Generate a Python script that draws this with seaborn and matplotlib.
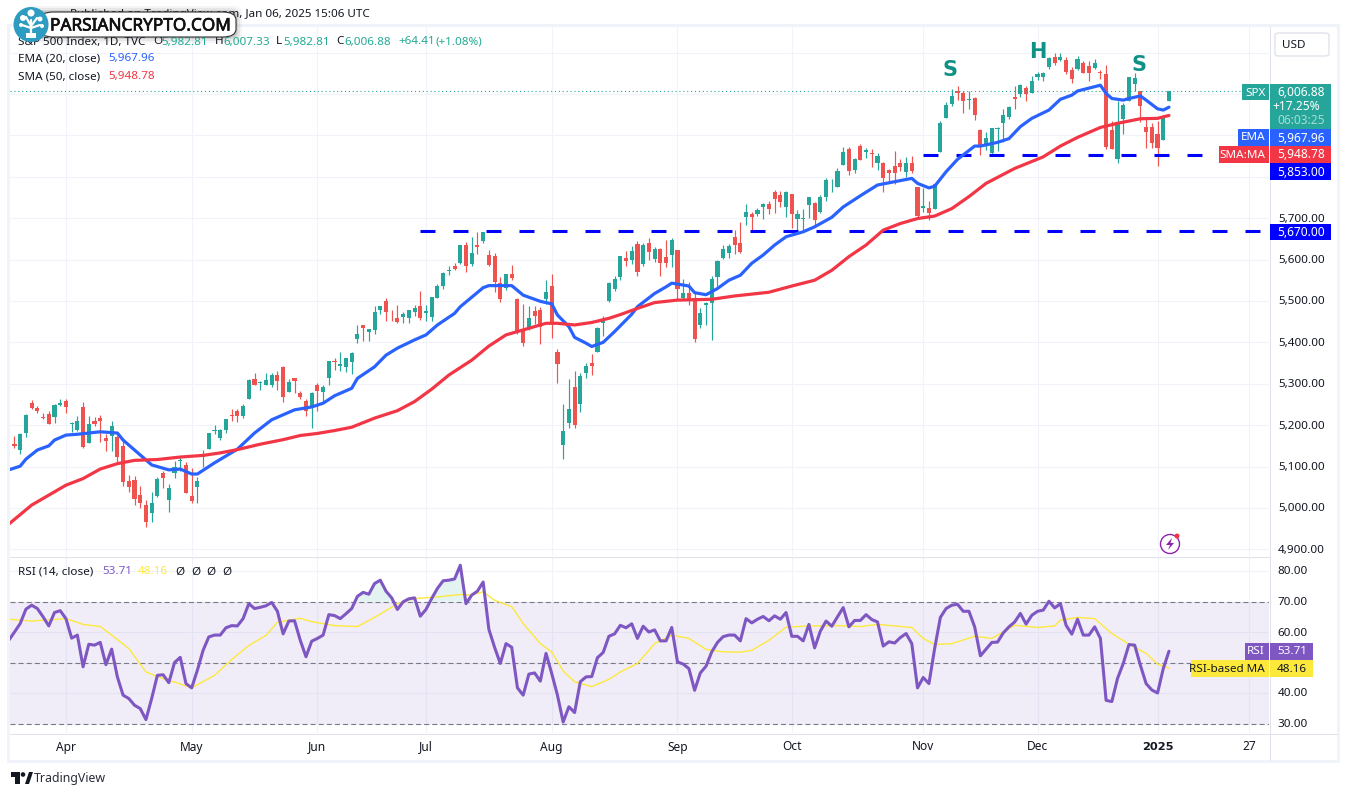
import matplotlib
matplotlib.use("Agg")
import matplotlib.pyplot as plt
import matplotlib.patheffects as pe
import numpy as np
import pandas as pd
import seaborn as sns
from matplotlib.patches import Rectangle, FancyBboxPatch, Ellipse, Polygon

sns.set_theme(style="white")
plt.rcParams['font.family'] = ['Noto Sans', 'DejaVu Sans']

W, H = 1345, 796

# ---- S&P 500 daily candles, Mar 18 2024 .. Jan 6 2025 ----
opens = [5155,5139,5181,5253,5242,5219,5228,5220,5248,
 5258,5204,5188,5244,5158,5211,5218,5168,5173,5171,5149,5064,5068,5032,5006,4988,5028,5085,5019,5085,5114,5103,
 5029,5050,5123,5142,5187,5168,5189,5225,5233,5222,5264,5312,5303,5298,5298,5321,5341,5281,5315,5278,5259,5244,
 5297,5279,5314,5355,5343,5341,5353,5409,5441,5424,5431,5477,5499,5466,5459,5461,5460,5473,5488,
 5471,5461,5507,5537,5572,5584,5591,5635,5590,5634,5644,5610,5608,5543,5532,5565,5505,5428,5433,5476,5478,5505,
 5537,5376,5151,5206,5293,5252,5327,5351,5376,5446,5501,5530,5558,5603,5598,5637,5590,5639,5602,5625,5607,5612,
 5623,5506,5520,5507,5443,5491,5496,5557,5604,5615,5655,5641,5703,5709,5710,5727,5733,5762,5756,5727,
 5758,5698,5698,5731,5737,5714,5751,5779,5775,5829,5866,5816,5875,5859,5857,5833,5834,5817,5827,5833,5812,5833,5775,
 5724,5725,5722,5860,5942,5976,6008,6003,5985,5989,5912,5875,5858,5915,5930,5945,5992,6000,6014,6003,
 6040,6042,6066,6089,6081,6083,6057,6060,6074,6068,6063,6053,6048,5912,5842,5940,5984,6025,6006,5920,5920,
 5903,5888,5983]
highs = [5175,5180,5226,5261,5246,5229,5235,5250,5264,
 5264,5208,5222,5256,5222,5219,5224,5178,5211,5176,5168,5079,5077,5052,5020,5039,5076,5089,5057,5114,5123,5110,
 5096,5074,5139,5181,5200,5190,5215,5239,5238,5250,5312,5325,5306,5325,5325,5330,5342,5311,5315,5282,5263,5281,
 5302,5298,5354,5362,5376,5362,5376,5441,5441,5432,5488,5488,5506,5478,5490,5473,5479,5490,5524,
 5490,5510,5540,5570,5584,5591,5636,5642,5655,5666,5667,5622,5615,5557,5564,5586,5508,5492,5488,5488,5486,5551,
 5566,5383,5250,5312,5331,5326,5351,5371,5436,5463,5546,5561,5608,5620,5632,5644,5641,5651,5631,5627,5646,5651,
 5623,5552,5546,5522,5484,5497,5561,5600,5636,5637,5671,5690,5733,5716,5725,5736,5741,5767,5765,5766,
 5758,5720,5723,5752,5740,5757,5796,5795,5822,5871,5871,5846,5878,5870,5867,5858,5835,5818,5862,5843,5847,5850,5775,
 5772,5741,5784,5934,5980,6012,6018,6008,6008,5993,5916,5909,5917,5920,5964,5972,6020,6025,6020,6044,
 6053,6053,6089,6100,6099,6088,6066,6092,6079,6079,6085,6058,6070,5935,5982,5979,6041,6050,6006,5940,5930,
 5935,5950,6007]
lows = [5145,5131,5171,5240,5229,5216,5203,5205,5246,
 5229,5184,5186,5146,5157,5197,5160,5138,5138,5107,5052,5039,5007,5001,4953,4966,5027,5048,4990,5073,5089,5035,
 5013,5011,5099,5142,5178,5165,5181,5209,5207,5217,5264,5296,5284,5298,5292,5286,5257,5279,5278,5262,5222,5192,
 5234,5257,5297,5333,5331,5328,5324,5398,5403,5403,5420,5468,5451,5452,5447,5446,5446,5463,5453,
 5451,5451,5507,5530,5562,5575,5589,5570,5584,5614,5639,5584,5522,5497,5526,5551,5419,5391,5430,5444,5397,5493,
 5410,5302,5119,5193,5192,5231,5314,5321,5376,5416,5497,5525,5550,5585,5590,5560,5585,5600,5593,5560,5581,5581,
 5505,5504,5490,5402,5434,5441,5406,5535,5602,5604,5614,5615,5683,5670,5705,5698,5710,5713,5727,5703,
 5675,5669,5669,5700,5683,5712,5741,5763,5775,5829,5804,5808,5840,5846,5824,5816,5762,5784,5783,5814,5800,5809,5702,
 5715,5696,5722,5860,5942,5971,5986,5955,5964,5938,5853,5865,5853,5861,5885,5940,5963,5992,5984,6003,
 6033,6032,6061,6070,6079,6048,6027,6058,6051,6030,6059,6036,5867,5866,5832,5902,5982,6006,5932,5869,5869,
 5825,5888,5983]
closes = [5149,5179,5225,5242,5234,5218,5204,5248,5254,
 5244,5206,5211,5147,5204,5202,5210,5161,5199,5123,5062,5051,5022,5011,4967,5011,5071,5072,5048,5100,5116,5036,
 5018,5064,5128,5181,5188,5188,5214,5223,5221,5247,5308,5297,5303,5308,5321,5307,5268,5305,5306,5267,5235,5278,
 5283,5291,5354,5353,5347,5361,5375,5421,5434,5432,5473,5487,5473,5465,5448,5469,5478,5483,5460,
 5475,5509,5537,5567,5573,5577,5634,5585,5615,5631,5667,5588,5545,5505,5564,5556,5427,5399,5459,5464,5436,5522,
 5447,5347,5186,5240,5200,5319,5344,5344,5434,5455,5543,5554,5608,5597,5621,5571,5635,5617,5626,5592,5592,5648,
 5529,5520,5503,5408,5471,5496,5554,5596,5626,5633,5635,5618,5714,5703,5719,5733,5722,5745,5738,5762,
 5709,5710,5700,5751,5696,5751,5792,5780,5815,5860,5815,5842,5841,5865,5854,5851,5797,5810,5808,5824,5833,5814,5705,
 5729,5713,5783,5929,5973,5996,6001,5984,5985,5949,5871,5894,5917,5917,5949,5969,5987,6022,5999,6032,
 6047,6050,6086,6075,6090,6053,6035,6084,6051,6051,6074,6051,5872,5867,5931,5974,6040,6038,5971,5907,5882,
 5869,5942,6007]

# EMA(20) at these bar numbers
ema_bar = [-1,1,2,4,6,7,9,11,13,15,18,19,21,23,24,27,29,31,32,35,39,42,45,49,52,54,56,59,60,63,65,67,70,72,74,77,78,80,82,83,87,89,92,94,95,97,98,100,101,103,105,108,109,112,114,115,118,119,121,123,125,127,129,131,133,135,138,140,143,145,148,151,154,157,158,160,161,163,165,168,169,172,174,176,178,181,183,185,186,190,191,192,194,195,197,198,200,201,202]
ema_val = [5092,5101,5118,5140,5150,5164,5176,5178,5181,5184,5181,5164,5140,5116,5104,5092,5094,5082,5082,5109,5142,5181,5213,5237,5244,5253,5271,5289,5313,5341,5369,5386,5406,5418,5442,5470,5486,5509,5532,5537,5537,5514,5499,5493,5466,5438,5412,5398,5390,5400,5426,5468,5486,5518,5534,5543,5536,5520,5515,5530,5550,5562,5591,5611,5635,5655,5667,5679,5702,5727,5754,5780,5788,5796,5784,5773,5777,5812,5842,5874,5874,5883,5892,5921,5941,5961,5987,5997,6007,6021,6001,5989,5985,5989,5995,5985,5964,5961,5968]
# SMA(50)
sma_bar = [-1,3,6,9,12,15,18,21,25,29,33,36,39,43,47,50,53,56,59,63,67,70,73,76,80,83,86,90,93,95,98,101,104,106,109,112,116,122,126,132,136,140,143,146,149,152,155,158,161,164,167,170,175,180,183,186,190,193,197,200,202]
sma_val = [4961,5007,5031,5055,5071,5094,5107,5115,5117,5123,5127,5133,5141,5154,5165,5175,5180,5187,5195,5217,5235,5257,5287,5321,5357,5391,5418,5434,5446,5446,5442,5448,5458,5467,5482,5496,5502,5504,5512,5521,5536,5550,5574,5607,5635,5671,5687,5699,5705,5723,5752,5784,5820,5848,5874,5895,5919,5929,5940,5941,5948]

# RSI(14), one value per bar from bar -1
rsi_val = [57.3,60,62.8,67.5,68.8,67.7,65,62,66.4,67,64.4,58,59,48.6,56,55.7,56.6,49.3,54.4,45.3,39.3,38.2,36,34.9,31.3,38.2,45.8,46,43.4,50,51.7,43.1,41.7,47.5,54,58.4,59,59,61.4,62.1,62,64.4,69.3,67.7,68.1,68.6,69.7,66.8,59.4,63.6,63.7,57.3,51.9,57,57.9,59,65.7,65.4,64.4,66,67.7,71.7,73,72.4,75.9,77,73.4,71.2,67.4,69.9,70.9,71.2,65.2,67.4,71,74.3,76.8,77,77.4,81.9,
 69.3,72.1,73.4,76.4,60.9,55,49.7,56.2,55,41.7,39.3,46.2,46.6,43.9,53,46.4,39.3,30.5,35.5,33.6,43.7,45.3,45.4,51.6,53.3,58.6,59.4,62.2,61.4,62.7,57.9,61.9,60,60.7,57.1,57.1,61.5,50.2,49.5,48,40.9,46.6,48.8,53.5,56.6,58.5,59,59,57.1,64.4,63,64.2,65.1,63.7,65.3,64.2,66.4,58.6,58.6,57.1,62.5,54.8,60.3,63.6,61.9,65,68,61.7,63.8,63.8,65.7,64.1,63.3,55.4,56.8,
 56.4,58.2,59.5,56.2,41.7,45.1,43.1,54.6,64.8,67.7,68.8,69.1,66.8,66.8,61.7,52.2,54.4,56.6,56.7,59.7,61.7,63.3,66.1,62.6,65.5,66.8,67.2,70.1,67.9,69.3,62.2,59.3,64.2,59,59,61.7,57.9,37.6,37.2,44.8,49.7,55.9,55.7,49.1,43.1,41,40,48,53.71]
# RSI-based MA
rsima_bar = [-1,3,9,12,15,17,20,23,26,28,31,35,38,41,44,46,50,52,56,60,63,67,70,74,78,80,82,84,87,89,92,94,96,98,101,104,106,109,112,115,118,121,124,127,129,132,135,139,144,148,151,157,159,161,164,168,171,175,179,182,183,186,189,192,195,198,200,202]
rsima_val = [64.2,63.6,64.4,62.5,61.8,59,54.6,46.9,44.7,43.6,41.7,45.8,51,55.6,58.9,63.2,64.5,63.4,62.1,61.8,64.8,69.3,71,71.5,72.3,72.1,73.2,70.4,68.3,62.8,56.2,53.5,47.2,43.7,42.1,44.5,46.9,49.7,56.2,59,57.9,54.3,53.5,53.4,54,57.3,61.6,62,62.1,61.8,62.5,61.5,57.9,55.9,56.2,58.6,57.9,62.2,61.5,62,63.9,64.8,64.4,59.5,56,53,49.5,48.16]

month_bars = [9,31,53,72,94,116,136,159,179,200,216]
month_labels = ["Apr","May","Jun","Jul","Aug","Sep","Oct","Nov","Dec","2025","27"]
price_grid = [4900,5000,5100,5200,5300,5400,5500,5600,5700,5800,5900,6000,6100]
price_labels = ["4,900.00","5,000.00","5,100.00","5,200.00","5,300.00","5,400.00","5,500.00","5,600.00","5,700.00"]
rsi_grid = [30,40,50,60,70,80]
rsi_labels = [30,40,60,70,80]
support_levels = [5853, 5670]
support_from = [159, 71]
last_price = 6006.88

UP, DOWN = "#26a69a", "#ef5350"
BLUE, RED, PURPLE, YEL = "#2962ff", "#f23645", "#7e57c2", "#fde93b"
GRID, FRAME, TXT = "#f0f3fa", "#e0e3eb", "#131722"

n = len(closes)
assert len(opens) == len(highs) == len(lows) == n == 203, (len(opens), len(highs), len(lows), n)
assert len(rsi_val) == 204, len(rsi_val)
assert len(ema_bar) == len(ema_val) and len(sma_bar) == len(sma_val) and len(rsima_bar) == len(rsima_val)

bars = pd.DataFrame({"bar": np.arange(n), "o": opens, "h": highs, "l": lows, "c": closes})
ema_df = pd.DataFrame({"bar": ema_bar, "v": ema_val})
sma_df = pd.DataFrame({"bar": sma_bar, "v": sma_val})
rsi_df = pd.DataFrame({"bar": np.arange(-1, n), "v": rsi_val})
rsima_df = pd.DataFrame({"bar": rsima_bar, "v": rsima_val})

fig = plt.figure(figsize=(W/100, H/100), dpi=100, facecolor="white")

def axpx(x0, y0, x1, y1):
    return fig.add_axes([x0/W, 1-y1/H, (x1-x0)/W, (y1-y0)/H])

ax = axpx(10, 27, 1269, 556)
rx = axpx(10, 557, 1269, 733)
xlim = (-0.787, 219.5)
ax.set_xlim(*xlim); rx.set_xlim(*xlim)
ax.set_ylim(4884, 6161.6)
rx.set_ylim(26.9, 84.6)

for a in (ax, rx):
    a.set_facecolor("white")
    a.set_xticks(month_bars); a.set_xticklabels([])
    a.tick_params(length=0, labelleft=False, labelbottom=False)
    a.grid(True, axis="both", color=GRID, lw=0.75)
    a.set_axisbelow(True)
    for s in a.spines.values():
        s.set_visible(False)
ax.set_yticks(price_grid); ax.set_yticklabels([])
rx.set_yticks(rsi_grid); rx.set_yticklabels([])

# candles
colors = np.where(bars.c >= bars.o, UP, DOWN)
ax.vlines(bars.bar, bars.l, bars.h, colors=colors, lw=0.85, zorder=2)
ax.bar(bars.bar, (bars.c-bars.o).abs().clip(lower=1.6), bottom=bars[["o","c"]].min(axis=1),
       width=0.72, color=colors, lw=0, zorder=3)

# dotted last price, dashed supports
ax.axhline(last_price, color=UP, lw=0.8, ls=(0, (1, 2.5)), zorder=4)
for lvl, start in zip(support_levels, support_from):
    ax.hlines(lvl, start, xlim[1], color="#0000ff", lw=2.2, ls=(0, (4.9, 5.9)), zorder=4)

sns.lineplot(data=ema_df, x="bar", y="v", ax=ax, color=BLUE, lw=2.3, zorder=5, errorbar=None)
sns.lineplot(data=sma_df, x="bar", y="v", ax=ax, color=RED, lw=2.3, zorder=5, errorbar=None)
ax.set_xlabel(""); ax.set_ylabel("")
ax.set_xlim(*xlim); ax.set_ylim(4884, 6161.6)

# RSI pane
rx.axhspan(30, 70, color=PURPLE, alpha=0.1, lw=0, zorder=1)
for lv in (30, 50, 70):
    rx.axhline(lv, color="#787b86", lw=0.8, ls=(0, (4.5, 2.8)), zorder=2)
rb = rsi_df.bar.values; rv = rsi_df.v.values
mask = (rb >= 60) & (rb <= 80)
rx.fill_between(rb[mask], 70, rv[mask], where=rv[mask] > 70, interpolate=True, color="#26a69a", alpha=0.13, lw=0, zorder=2)
sns.lineplot(data=rsima_df, x="bar", y="v", ax=rx, color=YEL, lw=1, zorder=3, errorbar=None)
sns.lineplot(data=rsi_df, x="bar", y="v", ax=rx, color=PURPLE, lw=2.2, zorder=4, errorbar=None)
rx.set_xlabel(""); rx.set_ylabel("")
rx.set_xlim(*xlim); rx.set_ylim(26.9, 84.6)

# ---- pixel helpers on the figure ----
def box(x0, y0, x1, y1, color, z=5, alpha=1.0):
    fig.add_artist(Rectangle((x0/W, 1-y1/H), (x1-x0)/W, (y1-y0)/H, transform=fig.transFigure,
                             facecolor=color, edgecolor="none", zorder=z, alpha=alpha))

def txt(x, y, s, color=TXT, size=8.6, ha="left", weight="normal", z=6, family=None):
    return fig.text(x/W, 1-(y+1)/H, s, color=color, fontsize=size, ha=ha, va="center", weight=weight, zorder=z,
                    family=family if family else plt.rcParams['font.family'])

def rline(x0, y0, x1, y1, color=FRAME, lw=0.75, z=4):
    fig.add_artist(plt.Line2D([x0/W, x1/W], [1-y0/H, 1-y1/H], color=color, lw=lw, transform=fig.transFigure, zorder=z))

def cpx(x, y, r, **kw):
    fig.add_artist(Ellipse((x/W, 1-y/H), 2*r/W, 2*r/H, transform=fig.transFigure, **kw))

# frame
for b in [(7, 24, 1340, 27), (7, 760, 1340, 763), (7, 24, 10, 763), (1337, 24, 1340, 763)]:
    box(*b, GRID, z=2)
rline(10, 556.5, 1269, 556.5)
rline(10, 733.5, 1337, 733.5)
rline(1269.5, 27, 1269.5, 760)

# axis labels
px_of_price = lambda p: 508 - (p-5000)/2.415
for p, lab in zip(price_grid, price_labels):
    txt(1325, px_of_price(p), lab, ha="right", size=8.4)
for v in rsi_labels:
    txt(1308, 723.5-(v-30)*3.05, f"{v:.2f}", ha="right", size=8.4)
for b, lab in zip(month_bars, month_labels):
    if lab == "2025":
        txt(14.5+5.715*b, 746, lab, ha="center", size=8.2, weight="bold", family="DejaVu Sans")
    else:
        txt(14.5+5.715*b, 746, lab, ha="center", size=8.6)

# USD button
fig.add_artist(FancyBboxPatch((1275/W, 1-56/H), 54/W, 23/H, boxstyle="round,pad=0,rounding_size=0.003",
                              transform=fig.transFigure, fc="white", ec=FRAME, lw=1, zorder=4))
txt(1282, 44, "USD", size=8.4)

# price tags
box(1242, 84, 1269, 100, "#26a69a"); txt(1255.5, 92, "SPX", "white", ha="center", size=8.4)
box(1270, 84, 1331, 129, "#26a69a")
txt(1325, 92, "6,006.88", "white", ha="right", size=8.6)
txt(1320, 105, "+17.25%", "white", ha="right", size=8.6)
txt(1325, 119, "06:03:25", "#a8dcd5", ha="right", size=8.6)
box(1238, 129, 1269, 146, BLUE); txt(1265, 137, "EMA", "white", ha="right", size=8.4)
box(1270, 129, 1331, 146, BLUE); txt(1325, 137, "5,967.96", "white", ha="right", size=8.6)
box(1219, 146, 1269, 163, RED); txt(1265, 154, "SMA:MA", "white", ha="right", size=8.4)
box(1270, 146, 1331, 163, RED); txt(1325, 154, "5,948.78", "white", ha="right", size=8.6)
box(1270, 163, 1331, 180, "#0000ff"); txt(1325, 171, "5,853.00", "white", ha="right", size=8.6)
box(1270, 224, 1331, 240, "#0000ff"); txt(1325, 232, "5,670.00", "white", ha="right", size=8.6)
box(1245, 643, 1269, 660, PURPLE); txt(1265, 651, "RSI", "white", ha="right", size=8.4)
box(1270, 643, 1313, 660, PURPLE); txt(1307, 651, "53.71", "white", ha="right", size=8.4)
box(1191, 660, 1269, 677, YEL); txt(1265, 668, "RSI-based MA", TXT, ha="right", size=8.4)
box(1270, 660, 1313, 677, YEL); txt(1307, 668, "48.16", TXT, ha="right", size=8.4)

# legends
TEAL = "#22ab94"
txt(18, 41, "S&P 500 Index, 1D, TVC", size=8.4)
xs = [153, 161, 215, 223, 276, 283, 336, 344, 398, 435]
for x, s, c in zip(xs, ["O","5,982.81","H","6,007.33","L","5,982.81","C","6,006.88","+64.41","(+1.08%)"],
                   [TXT,TEAL,TXT,TEAL,TXT,TEAL,TXT,TEAL,TEAL,TEAL]):
    txt(x, 41, s, c, size=8.4)
txt(18, 58, "EMA (20, close)", size=8.4); txt(108, 58, "5,967.96", BLUE, size=8.4)
txt(18, 76, "SMA (50, close)", size=8.4); txt(108, 76, "5,948.78", RED, size=8.4)
txt(18, 571, "RSI (14, close)", size=8.4)
txt(102, 571, "53.71", PURPLE, size=8.4); txt(138, 571, "48.16", YEL, size=8.4)
for x in (175, 191, 206, 222):
    txt(x, 571, "\u00d8", size=8.4)
txt(370, 14, "Published on TradingView.com, Jan 06, 2025 15:06 UTC", ha="right", size=8.4)

# head and shoulders letters
txt(950, 69, "S", "#0f9186", size=15, ha="center", weight="bold", family="DejaVu Sans")
txt(1038, 51, "H", "#0f9186", size=15, ha="center", weight="bold", family="DejaVu Sans")
txt(1139, 64, "S", "#0f9186", size=15, ha="center", weight="bold", family="DejaVu Sans")

# watermark pill + logo
for d, al in ((6, .04), (4, .06), (2, .08), (1, .08)):
    fig.add_artist(FancyBboxPatch(((28-d)/W, 1-(37+d)/H), (208+2*d)/W, (25+2*d)/H, boxstyle="round,pad=0,rounding_size=0.008",
                                  transform=fig.transFigure, fc="black", ec="none", alpha=al, zorder=5.5))
fig.add_artist(FancyBboxPatch((40/W, 1-37/H), 196/W, 25/H, boxstyle="round,pad=0,rounding_size=0.01",
                              transform=fig.transFigure, fc="white", ec="#333333", lw=0.8, zorder=8))
t = txt(50, 24.5, "PARSIANCRYPTO.COM", "#111111", size=12.4, z=9)
t.set_path_effects([pe.withStroke(linewidth=0.5, foreground="#111111")])
cpx(31, 24.5, 17.5, fc="#2e9cc0", ec="none", zorder=9)
for (x0, y0, x1, y1) in [(31,36,31,20),(31,28,22,25),(31,28,40,25),(31,26,37,18),(31,26,26,17)]:
    rline(x0, y0, x1, y1, "white", 1.6, 10)
for (x, y, r) in [(31,13,3.5),(23,18,3),(40,19,2.5),(21,25,2),(42,26,2)]:
    cpx(x, y, r, fc="white", ec="none", zorder=10)
box(26, 33, 36, 38, "white", z=10)

# flash icon
cpx(1170, 544, 9.5, fc="white", ec="#8e24aa", lw=1.0, zorder=6)
fig.add_artist(Polygon([(1172/W,1-538/H),(1166/W,1-545/H),(1170/W,1-545/H),(1168/W,1-550/H),(1174/W,1-543/H),(1170.5/W,1-543/H)],
                       transform=fig.transFigure, fc="#8e24aa", ec="none", zorder=7))
cpx(1177, 536, 2.5, fc="#f23645", ec="none", zorder=7)

# TradingView mark
box(11, 772, 20, 777, "#131722"); box(15, 772, 20, 784, "#131722")
cpx(23, 774.5, 2.3, fc="#131722", ec="none", zorder=6)
fig.add_artist(Polygon([(25/W,1-784/H),(29/W,1-772/H),(33/W,1-772/H),(29/W,1-784/H)], transform=fig.transFigure, fc="#131722", ec="none", zorder=6))
txt(34, 777.5, "TradingView", "#2a2e39", size=8.9)

fig.savefig("out.png", dpi=100, facecolor="white")
